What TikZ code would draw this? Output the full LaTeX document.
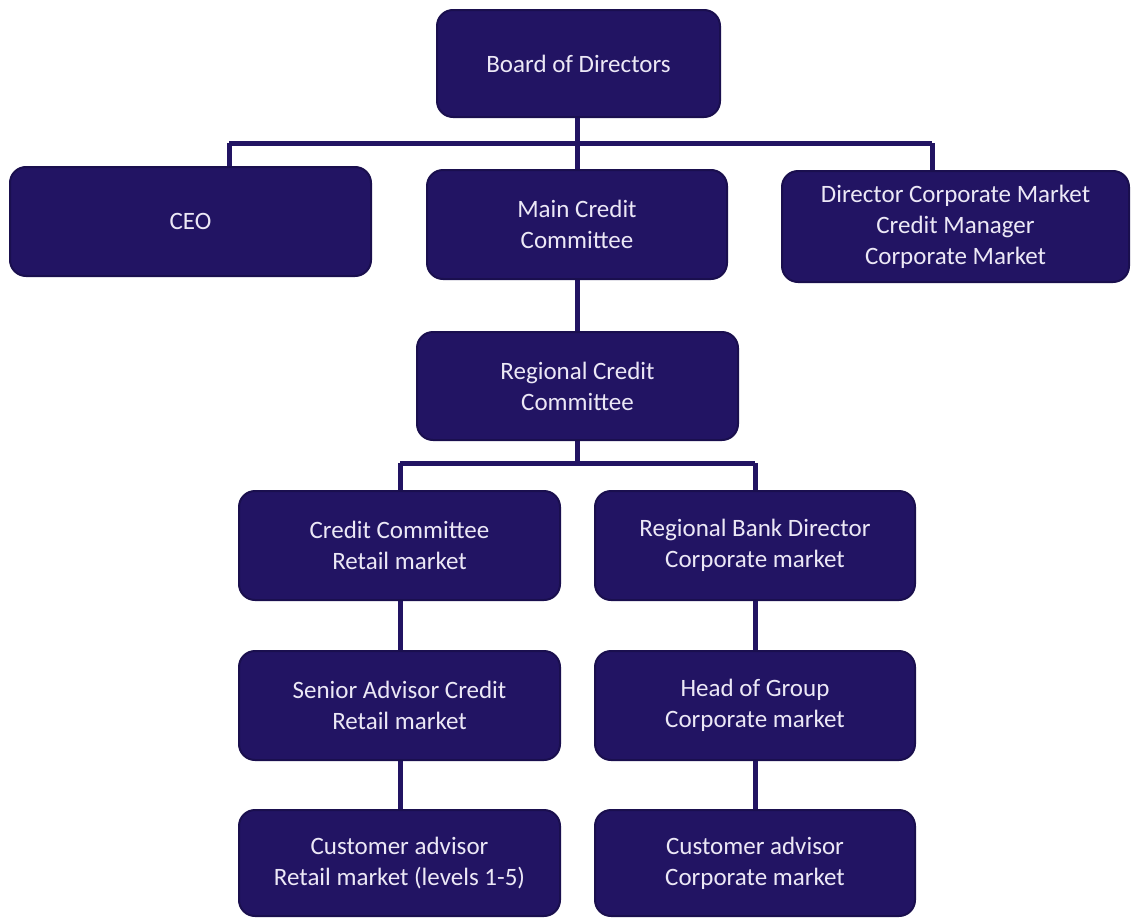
\documentclass[tikz,border=0pt]{standalone}
\usepackage{fontspec}
\setmainfont{Carlito}
\usetikzlibrary{backgrounds}
\definecolor{boxfill}{HTML}{221463}
\definecolor{boxline}{HTML}{1A0F4E}
\definecolor{boxtext}{HTML}{ECE8F6}
\definecolor{linkcol}{HTML}{221463}
\tikzset{
  orgbox/.style={draw=boxline, line width=2pt, fill=boxfill, rounded corners=16pt,
    text=boxtext, align=center, font=\fontsize{25}{31}\selectfont, inner sep=0pt},
  link/.style={draw=linkcol, line width=5pt}
}
\begin{document}
\begin{tikzpicture}[x=1pt,y=-1pt]
\useasboundingbox (0,0) rectangle (1131,918);
\coordinate (h1l) at (229,143);
\coordinate (h1m) at (577,143);
\coordinate (h1r) at (932,143);
\coordinate (h2l) at (400,463);
\coordinate (h2m) at (577,463);
\coordinate (h2r) at (755,463);
% nodes
\node[orgbox, minimum width=283pt, minimum height=107pt] (board) at (578.5,63.5) {Board of Directors};
\node[orgbox, minimum width=361pt, minimum height=109pt] (ceo) at (190.5,221.5) {CEO};
\node[orgbox, minimum width=300pt, minimum height=109pt] (main) at (577,224.5) {Main Credit\\Committee};
\node[orgbox, minimum width=347pt, minimum height=111pt] (dir) at (955.5,226.5) {Director Corporate Market\\Credit Manager\\Corporate Market};
\node[orgbox, minimum width=321pt, minimum height=108pt] (reg) at (577.5,386) {Regional Credit\\Committee};
\node[orgbox, minimum width=321pt, minimum height=109pt] (ccr) at (399.5,545.5) {Credit Committee\\Retail market};
\node[orgbox, minimum width=320pt, minimum height=109pt] (rbd) at (755,545.5) {Regional Bank Director\\Corporate market};
\node[orgbox, minimum width=321pt, minimum height=109pt] (sac) at (399.5,705.5) {Senior Advisor Credit\\Retail market};
\node[orgbox, minimum width=320pt, minimum height=109pt] (hog) at (755,705.5) {Head of Group\\Corporate market};
\node[orgbox, minimum width=321pt, minimum height=106pt] (car) at (399.5,863) {Customer advisor\\Retail market (levels 1-5)};
\node[orgbox, minimum width=320pt, minimum height=106pt] (cac) at (755,863) {Customer advisor\\Corporate market};
% connectors
\begin{scope}[on background layer]
\draw[link] (board.south -| h1m) -- (h1m);
\draw[link] (h1l) -- (h1r);
\draw[link] (h1l) -- ([yshift=-6pt]ceo.north -| h1l);
\draw[link] (h1m) -- (main.north -| h1m);
\draw[link] (h1r) -- (dir.north -| h1r);
\draw[link] (main.south -| h1m) -- (reg.north -| h1m);
\draw[link] (reg.south -| h2m) -- (h2m);
\draw[link] (h2l) -- (h2r);
\draw[link] (h2l) -- (ccr.north -| h2l);
\draw[link] (h2r) -- (rbd.north);
\draw[link] (ccr.south -| h2l) -- (sac.north -| h2l);
\draw[link] (sac.south -| h2l) -- (car.north -| h2l);
\draw[link] (rbd.south) -- (hog.north);
\draw[link] (hog.south) -- (cac.north);
\end{scope}
\end{tikzpicture}
\end{document}
